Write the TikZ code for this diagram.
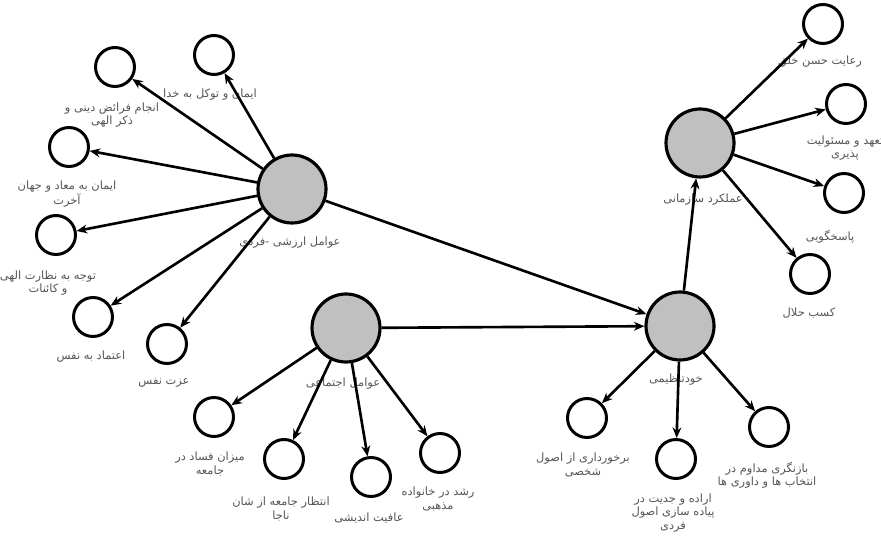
\documentclass[tikz,border=0pt]{standalone}
\usepackage{fontspec}
\usetikzlibrary{arrows.meta}
\newfontfamily\arabicfont[Script=Arabic]{DejaVu Sans}
\TeXXeTstate=1
\newcommand{\fa}[1]{{\arabicfont\beginR #1\endR}}
\definecolor{c1}{HTML}{C0C0C0}
\definecolor{c2}{HTML}{555555}

\begin{document}
\begin{tikzpicture}[x=0.02cm, y=-0.02cm]
  \tikzset{
    big/.style={circle, draw, line width=1.8pt, fill=c1, minimum size=1.36cm, inner sep=0pt},
    small/.style={circle, draw, line width=1.7pt, fill=white, minimum size=0.78cm, inner sep=0pt},
    lbl/.style={text=c2, font=\fontsize{6.5}{7.5}\selectfont, align=center, inner sep=0pt},
    arr/.style={line width=1.5pt, -{Stealth[length=6pt, width=5pt]}}
  }
  \useasboundingbox (0,0) rectangle (881,536);
  % Main factors
  \node[big] (A) at (292,189) {};
  \node[big] (B) at (346,328) {};
  \node[big] (C) at (680,326) {};
  \node[big] (D) at (700,143) {};
  \node[lbl] (lA) at (290,243) {\fa{عوامل ارزشی -فردی}};
  \node[lbl] (lB) at (343,384) {\fa{عوامل اجتماعی}};
  \node[lbl] (lC) at (676,380) {\fa{خودتنظیمی}};
  \node[lbl] (lD) at (703,200) {\fa{عملکرد سازمانی}};
  % Value-individual factors
  \node[small] (a1) at (214,55) {};
  \node[small] (a2) at (115,67) {};
  \node[small] (a3) at (69,147) {};
  \node[small] (a4) at (56,235) {};
  \node[small] (a5) at (93,317) {};
  \node[small] (a6) at (167,344) {};
  \node[lbl] (la1) at (210,95) {\fa{ایمان و توکل به خدا}};
  \node[lbl] (la2) at (112,115) {\fa{انجام فرائض دینی و}\\\fa{ذکر الهی}};
  \node[lbl] (la3) at (67,194) {\fa{ایمان به معاد و جهان}\\\fa{آخرت}};
  \node[lbl] (la4) at (48,283) {\fa{توجه به نظارت الهی}\\\fa{و کائنات}};
  \node[lbl] (la5) at (91,357) {\fa{اعتماد به نفس}};
  \node[lbl] (la6) at (164,383) {\fa{عزت نفس}};
  % Social factors
  \node[small] (b1) at (214,417) {};
  \node[small] (b2) at (284,459) {};
  \node[small] (b3) at (371,477) {};
  \node[small] (b4) at (440,453) {};
  \node[lbl] (lb1) at (210,464) {\fa{میزان فساد در}\\\fa{جامعه}};
  \node[lbl] (lb2) at (281,509) {\fa{انتظار جامعه از شان}\\\fa{ناجا}};
  \node[lbl] (lb3) at (369,518) {\fa{عافیت اندیشی}};
  \node[lbl] (lb4) at (438,499) {\fa{رشد در خانواده}\\\fa{مذهبی}};
  % Self-regulation
  \node[small] (c1) at (587,418) {};
  \node[small] (c2) at (676,459) {};
  \node[small] (c3) at (769,427) {};
  \node[lbl] (lc1) at (583,465) {\fa{برخورداری از اصول}\\\fa{شخصی}};
  \node[lbl] (lc2) at (673,513) {\fa{اراده و جدیت در}\\\fa{پیاده سازی اصول}\\\fa{فردی}};
  \node[lbl] (lc3) at (767,475) {\fa{بازنگری مداوم در}\\\fa{انتخاب ها و داوری ها}};
  % Organizational performance
  \node[small] (d1) at (823,24) {};
  \node[small] (d2) at (846,104) {};
  \node[small] (d3) at (844,193) {};
  \node[small] (d4) at (810,274) {};
  \node[lbl] (ld1) at (820,62) {\fa{رعایت حسن خلق}};
  \node[lbl] (ld2) at (845,148) {\fa{تعهد و مسئولیت}\\\fa{پذیری}};
  \node[lbl] (ld3) at (830,237) {\fa{پاسخگویی}};
  \node[lbl] (ld4) at (809,313) {\fa{کسب حلال}};
  % Arrows
  \foreach \t in {a1,a2,a3,a4,a5,a6}{
    \draw[arr] (A) -- (\t);
  }
  \foreach \t in {b1,b2,b3,b4}{
    \draw[arr] (B) -- (\t);
  }
  \foreach \t in {c1,c2,c3}{
    \draw[arr] (C) -- (\t);
  }
  \foreach \t in {d1,d2,d3,d4}{
    \draw[arr] (D) -- (\t);
  }
  \draw[arr] (A) -- (C);
  \draw[arr] (B) -- (C);
  \draw[arr] (C) -- (D);
\end{tikzpicture}
\end{document}
